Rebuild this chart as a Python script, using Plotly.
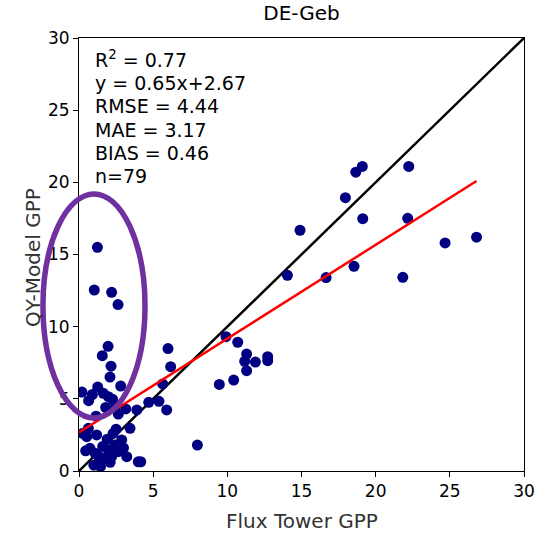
import plotly.graph_objects as go

# ---- data ----
flux_gpp = [
    19.1, 18.66, 22.23, 17.96, 19.13, 22.16, 14.9, 24.68, 26.8, 14.05, 16.66, 18.54, 21.83,
    9.91, 10.7, 11.3, 11.17, 11.89, 12.72, 12.72, 11.3, 9.46, 10.43,
    6.0, 6.18, 5.64, 4.7, 5.39, 5.91, 7.98, 4.16,
    1.24, 1.03, 2.2, 2.63, 1.96, 1.57, 2.16, 2.09,
    2.81, 1.26, 0.2, 0.65, 1.64, 1.98, 2.27, 2.5, 3.9, 2.65,
    0.63, 1.19, 0.52, 0.74, 3.44, 2.88, 2.43, 1.98, 2.2, 1.64,
    1.3, 3.22, 4.0, 1.08, 2.65, 0.25, 1.45, 1.15, 1.9, 1.6,
    2.3, 1.35, 3.0, 1.8, 0.9, 2.1, 2.5, 1.0, 3.15, 0.45,
]
model_gpp = [
    21.1, 20.7, 21.1, 18.94, 17.48, 17.51, 16.68, 15.8, 16.2, 13.56, 13.4, 14.18, 13.42,
    9.31, 8.92, 8.1, 7.6, 7.55, 7.92, 7.64, 6.95, 6.0, 6.3,
    8.48, 7.23, 6.03, 4.76, 4.83, 4.23, 1.8, 0.64,
    15.5, 12.54, 12.38, 11.53, 8.64, 7.99, 7.26, 6.51,
    5.89, 5.82, 5.47, 4.87, 5.38, 5.15, 4.97, 4.57, 4.23, 3.95,
    2.96, 2.5, 2.38, 1.57, 2.96, 2.15, 1.8, 1.46, 0.99, 0.88,
    0.53, 0.99, 0.64, 1.23, 1.34, 2.6, 0.3, 3.8, 2.2, 1.7,
    2.6, 1.0, 1.6, 4.4, 5.3, 0.6, 2.9, 0.4, 4.3, 1.4,
]
slope, intercept = 0.65, 2.67
stats_lines = ["R<sup>2</sup> = 0.77", "y = 0.65x+2.67", "RMSE = 4.44",
               "MAE = 3.17", "BIAS = 0.46", "n=79"]
axis_range = [0, 30]
tick_vals = [0, 5, 10, 15, 20, 25, 30]
title_text = "DE-Geb"
x_label = "Flux Tower GPP"
y_label = "QY-Model GPP"
# highlighted region (data units): x from, x to, y from, y to
ellipse_box = [-2.43, 4.45, 3.67, 19.2]

FONT = "DejaVu Sans"
W, H = 539, 535
L, R, T, B = 79, 15, 38, 64
PW, PH = W - L - R, H - T - B


def px_to_paper_y(py):
    return 1 - (py - T) / PH


def px_to_paper_x(px):
    return (px - L) / PW


fig = go.Figure()

# 1:1 line
fig.add_trace(go.Scatter(x=axis_range, y=axis_range, mode="lines",
                         line=dict(color="black", width=2.5), hoverinfo="skip"))

# points
fig.add_trace(go.Scatter(x=flux_gpp, y=model_gpp, mode="markers",
                         marker=dict(color="#000080", size=11, line=dict(width=0))))

# regression line
x_fit = [0, max(flux_gpp)]
fig.add_trace(go.Scatter(x=x_fit, y=[slope * v + intercept for v in x_fit], mode="lines",
                         line=dict(color="red", width=2.5), hoverinfo="skip"))

span = axis_range[1] - axis_range[0]
fig.add_shape(type="circle", xref="paper", yref="paper",
              x0=(ellipse_box[0] - axis_range[0]) / span,
              x1=(ellipse_box[1] - axis_range[0]) / span,
              y0=(ellipse_box[2] - axis_range[0]) / span,
              y1=(ellipse_box[3] - axis_range[0]) / span,
              line=dict(color="#7030A0", width=5.5), layer="above")

# statistics text, one line per annotation for tight line spacing
line_centers_px = [59, 82.5, 106, 129.5, 153, 176]
for txt, cy in zip(stats_lines, line_centers_px):
    fig.add_annotation(xref="paper", yref="paper", x=px_to_paper_x(93), y=px_to_paper_y(cy),
                       xanchor="left", yanchor="middle", align="left", showarrow=False,
                       text=txt, font=dict(family=FONT, size=19, color="black"))

# axis titles
fig.add_annotation(xref="paper", yref="paper", x=0.5, y=px_to_paper_y(521),
                   xanchor="center", yanchor="middle", showarrow=False, text=x_label,
                   font=dict(family=FONT, size=20, color="#333"))
fig.add_annotation(xref="paper", yref="paper", x=px_to_paper_x(33), y=px_to_paper_y(258),
                   xanchor="center", yanchor="middle", showarrow=False, text=y_label,
                   textangle=-90, font=dict(family=FONT, size=20, color="#333"))

axis_common = dict(range=axis_range, tickvals=tick_vals, showgrid=False, zeroline=False,
                   showline=True, mirror=True, linecolor="black", linewidth=1,
                   ticks="outside", ticklen=5, tickwidth=1, tickcolor="black",
                   automargin=False,
                   tickfont=dict(family=FONT, size=17, color="black"))

fig.update_layout(
    width=W, height=H,
    margin=dict(l=L, r=R, t=T, b=B),
    paper_bgcolor="white", plot_bgcolor="white",
    showlegend=False,
    title=dict(text=title_text, x=(L + W - R) / 2 / W, xanchor="center",
               y=1 - 13 / H, yanchor="middle", automargin=False,
               font=dict(family=FONT, size=20, color="black")),
    xaxis=dict(**axis_common),
    yaxis=dict(**axis_common),
)

fig.write_html("out.html",
               config={"displayModeBar": False},
               post_script="document.body.style.margin='0';document.body.style.overflow='hidden';")
